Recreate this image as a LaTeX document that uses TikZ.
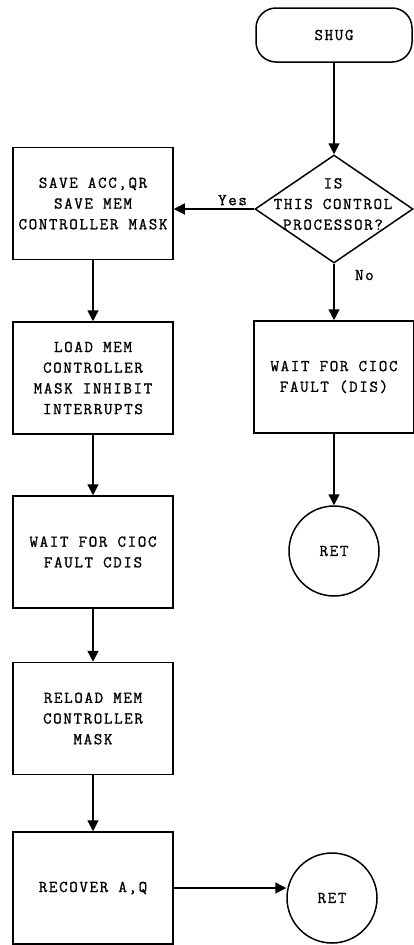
\documentclass[tikz,border=0pt]{standalone}
\usepackage{fontspec}
\setmonofont[LetterSpace=10,FakeBold=1.2]{Latin Modern Mono}
\usetikzlibrary{arrows.meta,shapes.geometric}

\tikzset{
  flow/.style={line width=1.5pt,-{Triangle[length=11pt,width=11pt]}},
  procbox/.style={draw,line width=1.5pt,minimum width=160pt,minimum height=112pt,
    align=center,inner sep=0pt},
  terminal/.style={draw,line width=1.5pt,rounded corners=20pt,minimum width=156pt,
    minimum height=54pt},
  decision/.style={draw,diamond,line width=1.5pt,minimum width=158pt,
    minimum height=108pt,inner sep=0pt},
  endcircle/.style={draw,circle,line width=1.5pt,minimum size=90pt,inner sep=0pt}
}

\begin{document}
\begin{tikzpicture}[x=1pt,y=-1pt,font=\ttfamily\fontsize{16.5}{20.7}\selectfont]
  \useasboundingbox (0,0) rectangle (413,945);
  % right branch
  \node[terminal] (shug) at (334,35) {SHUG};
  \node[decision] (isctl) at (334,209) {};
  \node[align=center,inner sep=0pt] (isctltext) at (333,204) {IS\\THIS CONTROL\\PROCESSOR?};
  \node[procbox] (waitdis) at (334,377) {WAIT FOR CIOC\\FAULT (DIS)};
  \node[endcircle] (retright) at (334,551) {RET};
  % left column
  \node[procbox] (saveacc) at (93,203.5) {SAVE ACC,QR\\SAVE MEM\\CONTROLLER MASK};
  \node[procbox] (loadmem) at (93,378) {LOAD MEM\\CONTROLLER\\MASK INHIBIT\\INTERRUPTS};
  \node[procbox] (waitcdis) at (93,552) {WAIT FOR CIOC\\FAULT CDIS};
  \node[procbox] (reload) at (93,718.5) {RELOAD MEM\\CONTROLLER\\MASK};
  \node[procbox] (recover) at (93,888) {RECOVER A,Q};
  \node[endcircle] (retbottom) at (332,898) {RET};

  \draw[flow] (shug) -- (isctl);
  \draw[flow] (isctl.west) -- node[pos=0.27,above,inner sep=3pt] {Yes} (isctl.west -| saveacc.east);
  \draw[flow] (isctl) -- node[pos=0.2,right,xshift=17pt] {No} (waitdis);
  \draw[flow] (waitdis) -- (retright);
  \draw[flow] (saveacc) -- (loadmem);
  \draw[flow] (loadmem) -- (waitcdis);
  \draw[flow] (waitcdis) -- (reload);
  \draw[flow] (reload) -- (recover);
  \draw[flow] (recover.east) -- (recover.east -| retbottom.west);
\end{tikzpicture}
\end{document}
